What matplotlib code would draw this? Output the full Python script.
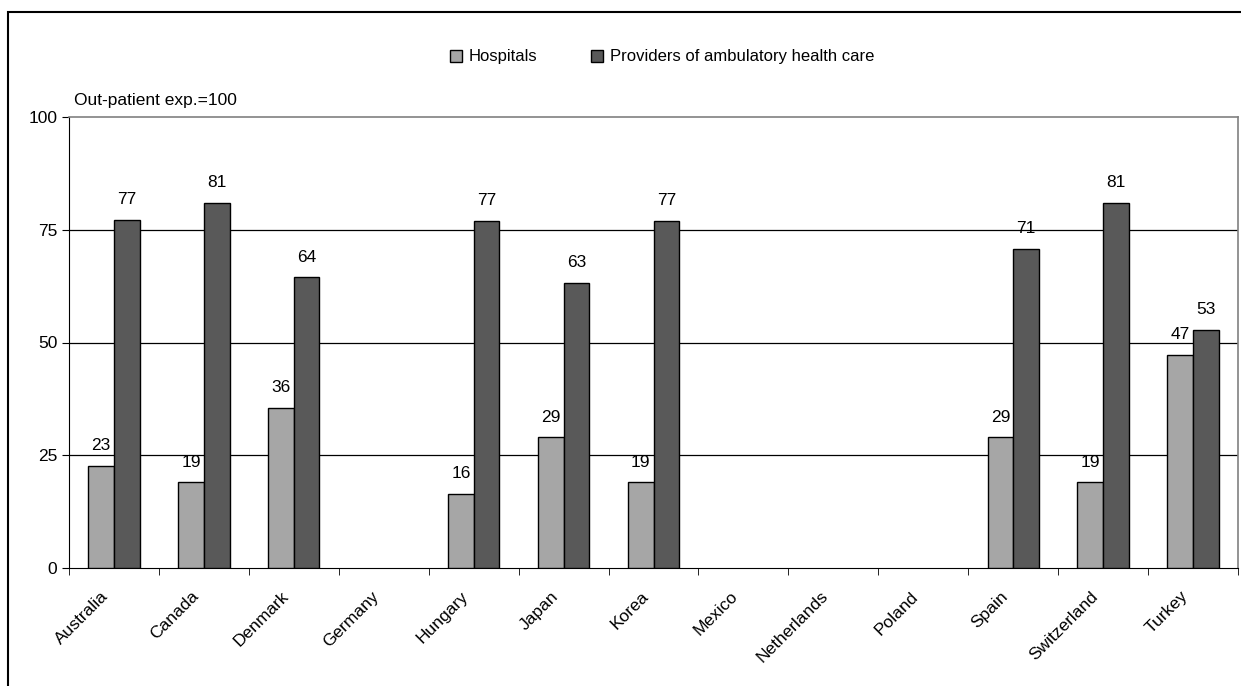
import matplotlib.pyplot as plt
import numpy as np
from matplotlib.patches import Rectangle
from matplotlib.transforms import ScaledTranslation

plt.rcParams['font.family'] = ['Liberation Sans', 'DejaVu Sans']

countries = ['Australia', 'Canada', 'Denmark', 'Germany', 'Hungary', 'Japan', 'Korea',
             'Mexico', 'Netherlands', 'Poland', 'Spain', 'Switzerland', 'Turkey']
hospitals = [22.7, 19.0, 35.5, np.nan, 16.5, 29.0, 19.0, np.nan, np.nan, np.nan, 29.0, 19.0, 47.3]
providers = [77.2, 81.0, 64.5, np.nan, 77.0, 63.3, 77.0, np.nan, np.nan, np.nan, 70.8, 81.0, 52.8]

fig = plt.figure(figsize=(12.41, 6.86), dpi=100)
ax = fig.add_axes([69 / 1241, 1 - 568 / 686, (1238 - 69) / 1241, (568 - 117) / 686])

# outer chart frame
fig.patches.append(Rectangle((8 / 1241, -0.1), 1.2, 1 - 12 / 686 + 0.1, transform=fig.transFigure,
                             fill=False, edgecolor='black', linewidth=1.5))

x = np.arange(len(countries))
w = 0.285
b1 = ax.bar(x - w / 2, hospitals, w, color='#a6a6a6', edgecolor='black', linewidth=1,
            label='Hospitals', zorder=3)
b2 = ax.bar(x + w / 2, providers, w, color='#595959', edgecolor='black', linewidth=1,
            label='Providers of ambulatory health care', zorder=3)

for xs, vals in [(x - w / 2, hospitals), (x + w / 2, providers)]:
    for xi, v in zip(xs, vals):
        if not np.isnan(v):
            ax.annotate(f'{v:.0f}', (xi, v), xytext=(0, 9), textcoords='offset points',
                        ha='center', va='bottom', fontsize=12.5)

ax.set_xlim(-0.5, len(countries) - 0.5)
ax.set_ylim(0, 100)
ax.set_yticks([0, 25, 50, 75, 100])
ax.tick_params(axis='y', labelsize=12.5, length=5, direction='out')
ax.set_xticks(x)
ax.set_xticklabels(countries, rotation=45, ha='right', rotation_mode='anchor', fontsize=12.5)
ax.tick_params(axis='x', length=0, pad=12)
ax.set_xticks(np.arange(len(countries) + 1) - 0.5, minor=True)
ax.tick_params(axis='x', which='minor', length=5, direction='out')
for lab in ax.get_xticklabels():
    lab.set_transform(lab.get_transform() + ScaledTranslation(-13 / 100, -4 / 100, fig.dpi_scale_trans))

for yv in [25, 50, 75]:
    ax.axhline(yv, color='black', linewidth=0.9, zorder=1)

for s in ['top', 'right']:
    ax.spines[s].set_color('#808080')
    ax.spines[s].set_linewidth(1.2)

ax.text(0.004, 1.02, 'Out-patient exp.=100', transform=ax.transAxes, fontsize=12.5,
        ha='left', va='bottom')

leg = fig.legend(handles=[b1, b2], loc='center', bbox_to_anchor=(662 / 1241, 1 - 57 / 686),
                 ncol=2, frameon=False, fontsize=12, handlelength=0.75, handleheight=0.75,
                 handletextpad=0.4, columnspacing=3.2)

fig.savefig('out.png', dpi=100)
